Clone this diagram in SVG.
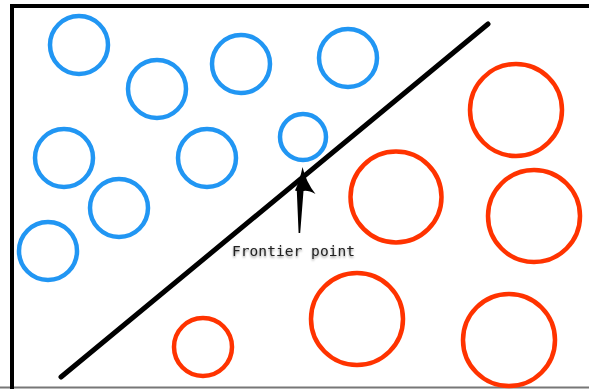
<svg xmlns="http://www.w3.org/2000/svg" width="589" height="389" viewBox="0 0 589 389">
<style>
.blue{fill:none;stroke:#2196f3;stroke-width:4.5}
.red{fill:none;stroke:#ff3300;stroke-width:4.5}
.lbl{font-family:"DejaVu Sans Mono","Liberation Mono",monospace;font-size:14.5px;fill:#222}
</style>
<defs>
<filter id="sh" x="-10%" y="-50%" width="120%" height="200%">
<feDropShadow dx="0" dy="1.5" stdDeviation="1.2" flood-color="#000" flood-opacity="0.45"/>
</filter>
</defs>
<rect x="0" y="0" width="589" height="389" fill="#fff"/>
<g id="frame">
<line x1="0" y1="387.5" x2="589" y2="387.5" stroke="#777" stroke-width="2"/>
<path d="M12,389 V6 H589" fill="none" stroke="#000" stroke-width="4"/>
</g>
<g id="blue-1"><circle class="blue" cx="79" cy="45" r="29"/></g>
<g id="blue-2"><circle class="blue" cx="157" cy="89" r="29"/></g>
<g id="blue-3"><circle class="blue" cx="241" cy="64" r="29"/></g>
<g id="blue-4"><circle class="blue" cx="348" cy="58" r="29"/></g>
<g id="blue-5"><circle class="blue" cx="64" cy="158" r="29"/></g>
<g id="blue-6"><circle class="blue" cx="207" cy="158" r="29"/></g>
<g id="blue-7"><circle class="blue" cx="303" cy="137" r="23"/></g>
<g id="blue-8"><circle class="blue" cx="119" cy="208" r="29"/></g>
<g id="blue-9"><circle class="blue" cx="48" cy="251" r="29"/></g>
<g id="red-1"><circle class="red" cx="516" cy="110" r="46"/></g>
<g id="red-2"><circle class="red" cx="396" cy="197" r="45.5"/></g>
<g id="red-3"><circle class="red" cx="534" cy="216" r="46"/></g>
<g id="red-4"><circle class="red" cx="357" cy="319" r="46"/></g>
<g id="red-5"><circle class="red" cx="509" cy="340" r="46"/></g>
<g id="red-6"><circle class="red" cx="203" cy="347" r="29"/></g>
<g id="connectors">
<line x1="488" y1="24" x2="61" y2="377" stroke="#000" stroke-width="5" stroke-linecap="round"/>
<path d="M302.5,167 Q306,182 315.5,194 Q308,190 303.5,191 L300.2,233 L298.6,233 L296.8,191 Q296,190.5 295,190.5 Q300,180 302.5,167 Z" fill="#000"/>
</g>
<g id="label">
<text class="lbl" x="232" y="256" textLength="123" lengthAdjust="spacing" filter="url(#sh)">Frontier point</text>
</g>
</svg>
